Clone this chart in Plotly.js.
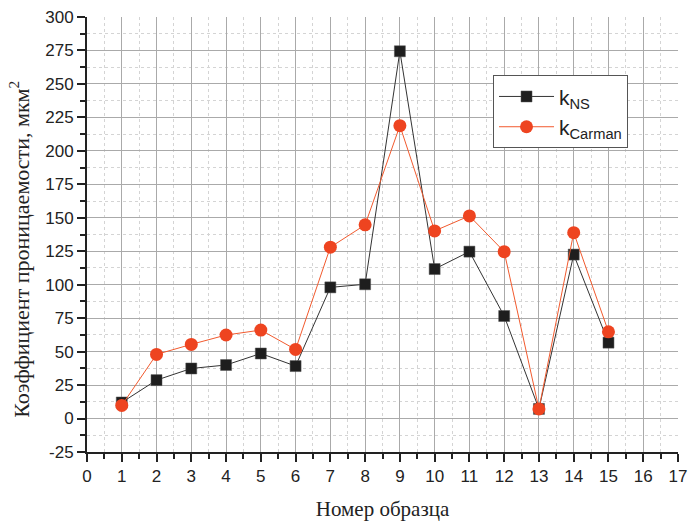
<!DOCTYPE html>
<html>
<head>
<meta charset="utf-8">
<script src="https://cdn.plot.ly/plotly-3.0.1.min.js"></script>
<style>body{margin:0;background:#fff;}#chart{width:689px;height:521px;}</style>
</head>
<body>
<div id="chart"></div>
<script>
const samples = [1,2,3,4,5,6,7,8,9,10,11,12,13,14,15];
const kNS =     [12, 28.7, 37.4, 40, 48.6, 39.2, 98, 100.3, 274.4, 111.7, 124.7, 76.6, 7.2, 122.5, 56.7];
const kCarman = [9.8, 47.9, 55.4, 62.4, 66.1, 51.6, 128, 144.7, 218.8, 140.2, 151.4, 124.7, 7.2, 138.9, 64.8];
const seriesNames = ['k<sub>NS</sub>', 'k<sub>Carman</sub>'];
const yTickVals = [-25, 0, 25, 50, 75, 100, 125, 150, 175, 200, 225, 250, 275, 300];
const yTickText = ['-25', '0', '25', '50', '75', '100', '125', '150', '175', '200', '225', '250', '275', '300'];
const xTitle = 'Номер образца';
const yTitle = 'Коэффициент проницаемости, мкм<sup>2</sup>';

const traces = [
  {x: samples, y: kNS, name: seriesNames[0], mode: 'lines+markers', type: 'scatter',
   line: {color: '#333333', width: 1},
   marker: {symbol: 'square', size: 11, color: '#1e1e1e', line: {color: '#555', width: 0.5}}},
  {x: samples, y: kCarman, name: seriesNames[1], mode: 'lines+markers', type: 'scatter',
   line: {color: '#f25a2e', width: 1},
   marker: {symbol: 'circle', size: 13, color: '#ee4420'}}
];

const layout = {
  width: 689, height: 521,
  margin: {l: 87, r: 11, t: 17, b: 69},
  paper_bgcolor: '#fff', plot_bgcolor: '#fff',
  showlegend: true,
  legend: {x: 0.687, y: 0.866, xanchor: 'left', yanchor: 'top',
    bgcolor: '#fff', bordercolor: '#555', borderwidth: 1,
    font: {family: 'Liberation Sans, Arial, sans-serif', size: 21, color: '#222'},
    itemwidth: 55, tracegroupgap: 0},
  xaxis: {
    range: [0, 17], dtick: 1, tick0: 0,
    showline: true, linecolor: '#222', linewidth: 2,
    ticks: 'outside', ticklen: 8, tickwidth: 2, tickcolor: '#222',
    showgrid: true, gridcolor: '#aaaaaa', gridwidth: 1,
    zeroline: false,
    minor: {dtick: 0.5, ticks: 'outside', ticklen: 5, tickwidth: 2, tickcolor: '#222',
            showgrid: true, gridcolor: '#d4d4d4', griddash: 'dot', gridwidth: 1},
    tickfont: {family: 'Liberation Sans, Arial, sans-serif', size: 17, color: '#222'},
    title: {text: xTitle, standoff: 20,
            font: {family: 'Liberation Serif, Times New Roman, serif', size: 21, color: '#222'}}
  },
  yaxis: {
    range: [-25, 300], tickmode: 'array', tickvals: yTickVals, ticktext: yTickText,
    showline: true, linecolor: '#222', linewidth: 2,
    ticks: 'outside', ticklen: 8, tickwidth: 2, tickcolor: '#222',
    showgrid: true, gridcolor: '#aaaaaa', gridwidth: 1,
    zeroline: false,
    minor: {dtick: 12.5, tick0: 0, ticks: 'outside', ticklen: 5, tickwidth: 2, tickcolor: '#222',
            showgrid: true, gridcolor: '#d4d4d4', griddash: 'dot', gridwidth: 1},
    tickfont: {family: 'Liberation Sans, Arial, sans-serif', size: 17, color: '#222'}
  },
  annotations: [{
    text: yTitle, textangle: -90, showarrow: false,
    xref: 'paper', yref: 'paper', x: -0.115, y: 0.465, xanchor: 'center', yanchor: 'middle',
    font: {family: 'Liberation Serif, Times New Roman, serif', size: 22, color: '#222'}
  }]
};

Plotly.newPlot('chart', traces, layout, {displayModeBar: false, staticPlot: true});
</script>
</body>
</html>
